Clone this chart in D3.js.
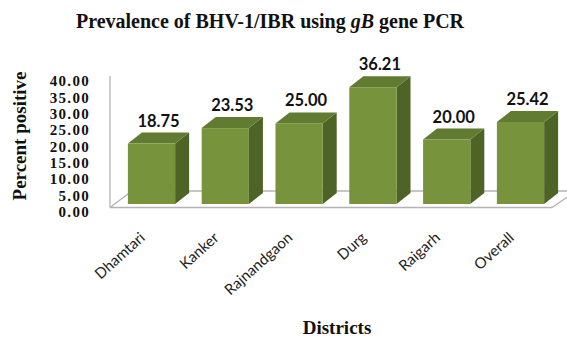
<!DOCTYPE html>
<html><head><meta charset="utf-8">
<script src="https://cdn.jsdelivr.net/npm/d3@7"></script>
<style>body{margin:0;background:#fff}svg{display:block}</style>
</head><body><svg id="c" width="567" height="339"></svg>
<script>
const categories = ["Dhamtari","Kanker","Rajnandgaon","Durg","Raigarh","Overall"];
const values = [18.75, 23.53, 25.00, 36.21, 20.00, 25.42];
const yTicks = [0, 5, 10, 15, 20, 25, 30, 35, 40];

const svg = d3.select("#c");
const serif = "'Liberation Serif','Times New Roman',serif";
const sans = "Lato,'Open Sans',sans-serif";

const dx = 14, dy = 11;
const x = d3.scaleBand().domain(categories).range([114.6, 557.4]).paddingInner(0.36).paddingOuter(0.18);
const y = d3.scaleLinear().domain([0, 40]).range([204, 75]);
const yAxisScale = d3.scaleLinear().domain([0, 40]).range([211.7, 81]);

// walls / floor
const g0 = svg.append("g").attr("fill", "none").attr("stroke", "#b4b4b4").attr("stroke-width", 1.3);
g0.append("line").attr("x1", 110).attr("y1", 76).attr("x2", 110).attr("y2", 207.5);
g0.append("path").attr("d", "M110,207.5 L552,207.5 L576,191 M110,207.5 L132,191 L576,191");

// axis labels
const ax = svg.append("g").attr("transform", "translate(90,0)")
  .call(d3.axisLeft(yAxisScale).tickValues(yTicks).tickSize(0).tickPadding(0).tickFormat(d3.format(".2f")));
ax.select(".domain").remove();
ax.selectAll("text").attr("font-family", serif).attr("font-weight", "bold").attr("font-size", 15)
  .attr("letter-spacing", 1.3).attr("fill", "#111");

// bars
const bw = x.bandwidth();
const bars = svg.append("g").selectAll("g").data(categories).join("g");
bars.each(function(c, i) {
  const g = d3.select(this);
  const x0 = x(c), yv = y(values[i]), yb = y(0);
  g.append("path").attr("fill", "#4e6426")
    .attr("d", `M${x0+bw},${yv} L${x0+bw+dx},${yv-dy} L${x0+bw+dx},${yb-dy} L${x0+bw},${yb} Z`);
  g.append("path").attr("fill", "#617c30")
    .attr("d", `M${x0},${yv} L${x0+dx},${yv-dy} L${x0+bw+dx},${yv-dy} L${x0+bw},${yv} Z`);
  g.append("rect").attr("x", x0).attr("y", yv).attr("width", bw).attr("height", yb - yv).attr("fill", "#77933c");
  g.append("text").attr("x", x0 + (bw + dx) / 2).attr("y", yv - dy - 6)
    .attr("text-anchor", "middle").attr("font-family", sans).attr("font-weight", "bold")
    .attr("font-size", 16.5).attr("fill", "#111").text(values[i].toFixed(2));
});

// category labels
svg.append("g").selectAll("text").data(categories).join("text")
  .attr("transform", d => `translate(${x(d) + bw / 2 - 5.5},239) rotate(-42)`)
  .attr("text-anchor", "end").attr("font-family", sans).attr("font-size", 15).attr("fill", "#222")
  .text(d => d);

// title
const t = svg.append("text").attr("x", 270).attr("y", 28).attr("text-anchor", "middle")
  .attr("font-family", serif).attr("font-weight", "bold").attr("font-size", 20).attr("fill", "#111");
t.append("tspan").text("Prevalence of BHV-1/IBR using ");
t.append("tspan").attr("font-style", "italic").text("gB");
t.append("tspan").text(" gene PCR");

// axis titles
svg.append("text").attr("transform", "translate(26,136) rotate(-90)").attr("text-anchor", "middle")
  .attr("font-family", serif).attr("font-weight", "bold").attr("font-size", 19).attr("fill", "#111")
  .text("Percent positive");
svg.append("text").attr("x", 337).attr("y", 334).attr("text-anchor", "middle")
  .attr("font-family", serif).attr("font-weight", "bold").attr("font-size", 19).attr("fill", "#111")
  .text("Districts");
</script></body></html>
